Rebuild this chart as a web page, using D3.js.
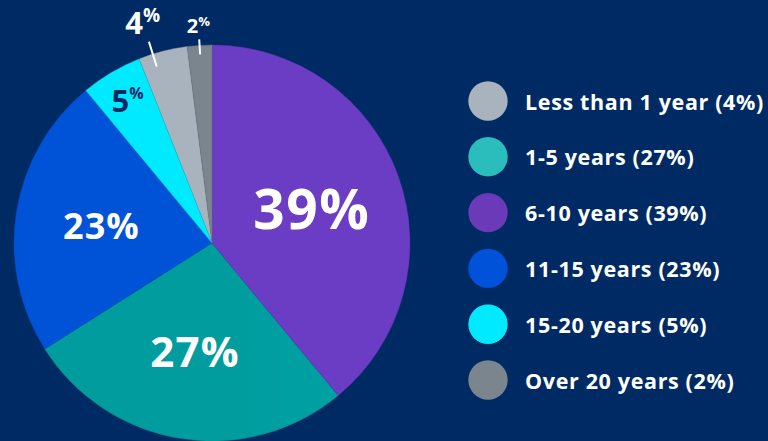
<!DOCTYPE html>
<html>
<head>
<meta charset="utf-8">
<script src="https://cdn.jsdelivr.net/npm/d3@7"></script>
<style>
  html, body { margin: 0; padding: 0; background: #002a64; }
  svg { display: block; }
  text { font-family: "Open Sans", "Noto Sans", sans-serif; font-weight: 700; }
</style>
</head>
<body>
<svg id="chart" width="768" height="441"></svg>
<script>
// Years of service, share of respondents
const categories = ["Less than 1 year", "1-5 years", "6-10 years", "11-15 years", "15-20 years", "Over 20 years"];
const shares = [4, 27, 39, 23, 5, 2];
// order the slices run clockwise from 12 o'clock
const sliceOrder = ["6-10 years", "1-5 years", "11-15 years", "15-20 years", "Less than 1 year", "Over 20 years"];

const sliceColors = ["#a9b3bd", "#00a9ab", "#6b3cc4", "#0058e2", "#00eaff", "#7b858d"];
const legendColors = ["#a9b3bd", "#2bbcbc", "#6a3ab8", "#0052d9", "#00eaff", "#7b858d"];
// how much each slice darkens toward its left side
const shadeAmount = [0, 0.22, 0, 0.15, 0, 0];

// per-slice label styling: inside (big), inside small with raised %, or outside with leader
const labelStyle = {
  "6-10 years":       { mode: "inside", r: 106, size: 55, fill: "#fff", ls: 1.5 },
  "1-5 years":        { mode: "inside", r: 109, size: 42, fill: "#fff", ls: 1.2 },
  "11-15 years":      { mode: "inside", r: 112, size: 36, fill: "#fff", ls: 1 },
  "15-20 years":      { mode: "raised", r: 166, size: 31, pct: 16, fill: "#002a64" },
  "Less than 1 year": { mode: "outside", r: 232, size: 31, pct: 19, fill: "#fff", l0: 185, l1: 211, da: -3 },
  "Over 20 years":    { mode: "outside", r: 218, size: 20, pct: 13, fill: "#fff", l0: 189, l1: 204, da: 0 }
};

const W = 768, H = 441;
const cx = 212, cy = 243, R = 198;

const svg = d3.select("#chart");
svg.append("rect").attr("width", W).attr("height", H).attr("fill", "#002a64");

const rows = categories.map((c, i) => ({ cat: c, value: shares[i], color: sliceColors[i], legend: legendColors[i], shade: shadeAmount[i] }));

const pie = d3.pie()
  .value(d => d.value)
  .sort((a, b) => sliceOrder.indexOf(a.cat) - sliceOrder.indexOf(b.cat));
const arcs = pie(rows);
const arc = d3.arc().innerRadius(0).outerRadius(R);

// soft left-to-right shading on slices
const defs = svg.append("defs");
rows.forEach((d, i) => {
  const g = defs.append("linearGradient")
    .attr("id", "grad" + i)
    .attr("gradientUnits", "userSpaceOnUse")
    .attr("x1", cx - R).attr("x2", cx + R * 0.4).attr("y1", 0).attr("y2", 0);
  const base = d3.color(d.color);
  g.append("stop").attr("offset", "0%").attr("stop-color", base.darker(d.shade).formatHex());
  g.append("stop").attr("offset", "100%").attr("stop-color", base.formatHex());
});

const pieG = svg.append("g").attr("transform", `translate(${cx},${cy})`);
pieG.selectAll("path.slice")
  .data(arcs)
  .join("path")
  .attr("class", "slice")
  .attr("d", arc)
  .attr("fill", d => `url(#grad${rows.indexOf(d.data)})`)
  .attr("stroke", d => d3.color(d.data.color).darker(0.5))
  .attr("stroke-width", 0.4);

const polar = (ang, r) => [Math.sin(ang) * r, -Math.cos(ang) * r];

arcs.forEach(a => {
  const st = labelStyle[a.data.cat];
  const mid = (a.startAngle + a.endAngle) / 2 + ((st.da || 0) * Math.PI / 180);
  const [x, y] = polar(mid, st.r);
  if (st.mode === "inside") {
    pieG.append("text")
      .attr("x", x).attr("y", y)
      .attr("text-anchor", "middle")
      .attr("dominant-baseline", "central")
      .attr("font-size", st.size)
      .attr("letter-spacing", st.ls)
      .attr("fill", st.fill)
      .text(a.data.value + "%");
  } else {
    if (st.mode === "outside") {
      const [x0, y0] = polar(mid, st.l0);
      const [x1, y1] = polar(mid, st.l1);
      pieG.append("line")
        .attr("x1", x0).attr("y1", y0).attr("x2", x1).attr("y2", y1)
        .attr("stroke", "#fff").attr("stroke-width", 2);
    }
    const t = pieG.append("text")
      .attr("x", x).attr("y", y)
      .attr("text-anchor", "middle")
      .attr("dominant-baseline", "central")
      .attr("fill", st.fill);
    t.append("tspan").attr("font-size", st.size).text(a.data.value);
    t.append("tspan").attr("font-size", st.pct).attr("dy", -st.size * 0.22).text("%");
  }
});

// legend
const legend = svg.append("g").attr("transform", "translate(488,101)");
const rowStep = 55.8;
const item = legend.selectAll("g.item")
  .data(rows)
  .join("g")
  .attr("class", "item")
  .attr("transform", (d, i) => `translate(0,${i * rowStep})`);
item.append("circle").attr("r", 19.7).attr("fill", d => d.legend);
item.append("text")
  .attr("x", 37)
  .attr("y", 0)
  .attr("dominant-baseline", "central")
  .attr("font-size", 21.5)
  .attr("letter-spacing", 0.65)
  .attr("fill", "#fff")
  .text(d => `${d.cat} (${d.value}%)`);
</script>
</body>
</html>
